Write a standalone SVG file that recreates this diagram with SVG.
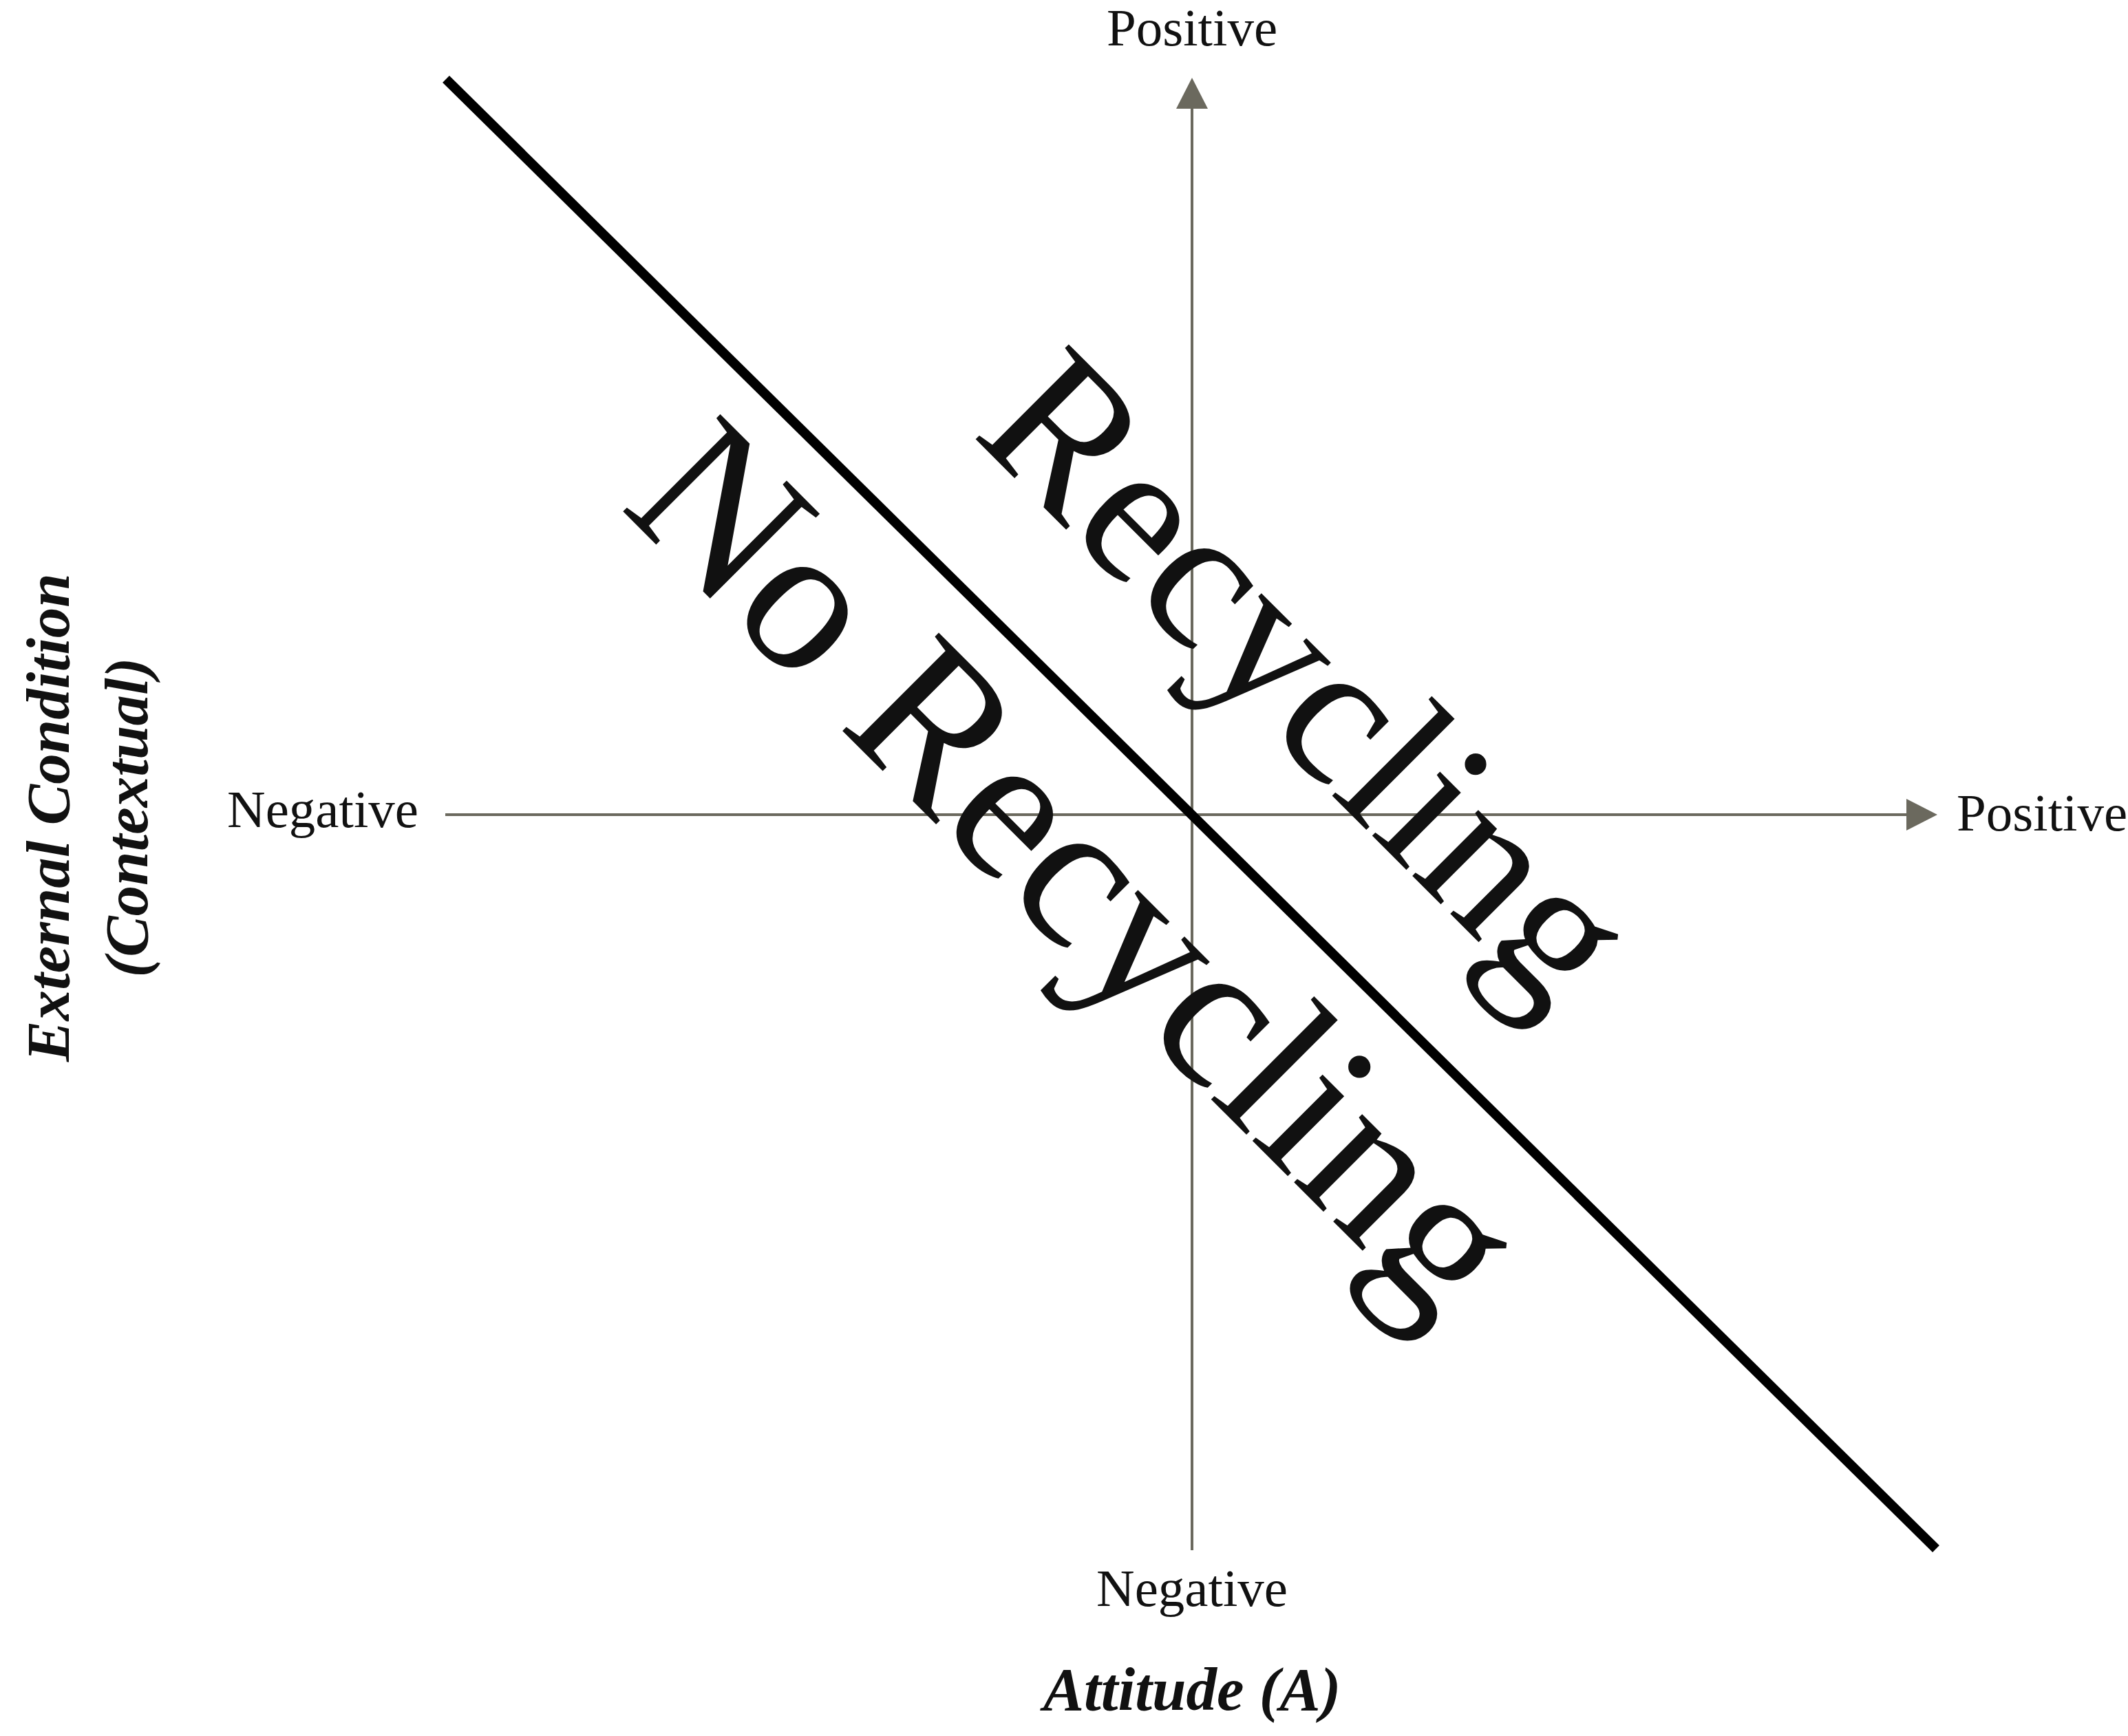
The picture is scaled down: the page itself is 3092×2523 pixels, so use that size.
<svg xmlns="http://www.w3.org/2000/svg" width="3092" height="2523" viewBox="0 0 3092 2523">
<style>
.lbl{font-family:"Liberation Serif",serif;font-size:77px;fill:#111}
.ax{font-family:"Liberation Serif",serif;font-size:89px;font-weight:bold;font-style:italic;fill:#111}
.big{font-family:"Liberation Serif",serif;fill:#111}
.axis{stroke:#6b695e;stroke-width:4;fill:none}
</style>
<rect width="3092" height="2523" fill="#fff"/>
<g id="connectors">
<line class="axis" x1="647" y1="1184" x2="2772" y2="1184"/>
<polygon points="2815,1184 2770,1161 2770,1207" fill="#6b695e"/>
<line class="axis" x1="1732" y1="2253" x2="1732" y2="155"/>
<polygon points="1732,113 1709,158 1755,158" fill="#6b695e"/>
<line x1="648" y1="115" x2="2813" y2="2251" stroke="#000" stroke-width="14"/>
</g>
<g id="labels">
<text class="lbl" x="1732" y="66" text-anchor="middle">Positive</text>
<text class="lbl" x="608" y="1202" text-anchor="end">Negative</text>
<text class="lbl" x="2843" y="1207">Positive</text>
<text class="lbl" x="1732" y="2334" text-anchor="middle">Negative</text>
<text class="ax" x="1732" y="2485" text-anchor="middle">Attitude (A)</text>
<text class="ax" transform="translate(100,1188) rotate(-90)" text-anchor="middle">External Condition</text>
<text class="ax" transform="translate(214,1188) rotate(-90)" text-anchor="middle">(Contextual)</text>
</g>
<g id="regions">
<text class="big" font-size="295" transform="translate(1901,986) rotate(45)" text-anchor="middle" dy="96">Recycling</text>
<text class="big" font-size="305" transform="translate(1565,1263) rotate(45)" text-anchor="middle" dy="99">No Recycling</text>
</g>
</svg>
